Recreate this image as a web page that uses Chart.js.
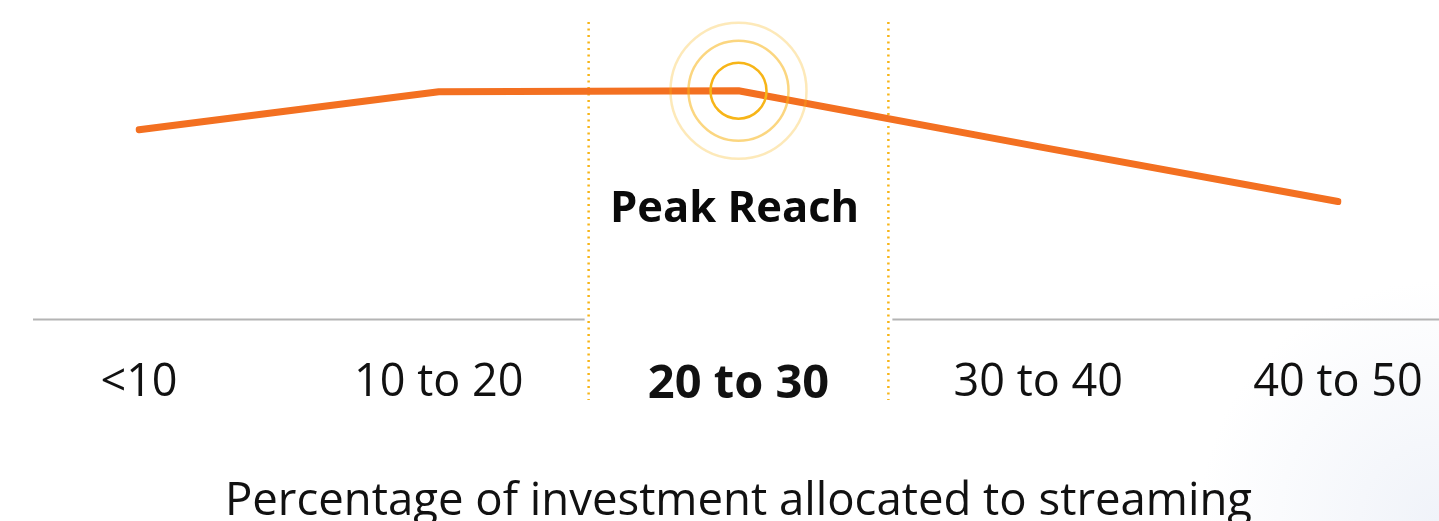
<!DOCTYPE html>
<html>
<head>
<meta charset="utf-8">
<script src="https://cdn.jsdelivr.net/npm/chart.js@4/dist/chart.umd.min.js"></script>
<style>
  html, body { margin:0; padding:0; background:#fff; }
  body { width:1439px; height:521px; overflow:hidden;
    background: radial-gradient(circle at 100% 100%, #f0f3f9 0, #ffffff 240px); }
  #wrap { position:relative; width:1439px; height:521px; }
</style>
</head>
<body>
<div id="wrap"><canvas id="chart" width="1439" height="521"></canvas></div>
<script>
// Reach by share of investment going to streaming
const categories = ['<10', '10 to 20', '20 to 30', '30 to 40', '40 to 50']
const reachValues = [59.4, 71.3, 71.6, 54.1, 36.9]
const peakIndex = 2
const axisTitle = 'Percentage of investment allocated to streaming'
const peakLabel = 'Peak Reach'

const ORANGE = '#f37021'
const GOLD = '#f7b518'
const FONT = '"Open Sans", sans-serif'

// draws the highlight band, the broken baseline and the peak rings
const decorations = {
  id:'decorations',
  beforeDatasetsDraw(chart){
    const {ctx, chartArea, scales:{x}} = chart
    const bandL = (x.getPixelForValue(peakIndex-1) + x.getPixelForValue(peakIndex)) / 2
    const bandR = (x.getPixelForValue(peakIndex) + x.getPixelForValue(peakIndex+1)) / 2
    const base = chartArea.bottom
    ctx.save()
    // baseline, interrupted by the band
    ctx.strokeStyle = '#b4b4b4'
    ctx.lineWidth = 2
    ctx.beginPath()
    ctx.moveTo(x.getPixelForValue(0) - 106, base); ctx.lineTo(bandL - 4, base)
    ctx.moveTo(bandR + 4, base); ctx.lineTo(chart.width, base)
    ctx.stroke()
    // dotted band edges
    ctx.strokeStyle = GOLD
    ctx.lineWidth = 2.5
    ctx.setLineDash([2, 4.5])
    ;[bandL, bandR].forEach(px=>{
      ctx.beginPath()
      ctx.moveTo(px, 22); ctx.lineTo(px, 400)
      ctx.stroke()
    })
    ctx.restore()
  },
  afterDatasetsDraw(chart){
    const {ctx} = chart
    const pt = chart.getDatasetMeta(0).data[peakIndex]
    ctx.save()
    const rings = [[68, 'rgba(247,181,24,0.3)'], [50, 'rgba(247,181,24,0.55)'], [28, GOLD]]
    rings.forEach(([r, c])=>{
      ctx.strokeStyle = c
      ctx.lineWidth = 2.5
      ctx.beginPath()
      ctx.arc(pt.x, pt.y, r, 0, Math.PI*2)
      ctx.stroke()
    })
    ctx.fillStyle = '#0a0a0a'
    ctx.font = 'bold 43.5px ' + FONT
    ctx.textAlign = 'center'
    ctx.textBaseline = 'middle'
    ctx.fillText(peakLabel, pt.x - 4, pt.y + 119)
    ctx.restore()
  }
}

new Chart(document.getElementById('chart'), {
  type:'line',
  data:{
    labels: categories,
    datasets:[{
      data: reachValues,
      borderColor: ORANGE,
      borderWidth: 7,
      borderCapStyle: 'round',
      borderJoinStyle: 'round',
      pointRadius: 0,
      tension: 0
    }]
  },
  options:{
    responsive:false,
    animation:false,
    events:[],
    layout:{ autoPadding:false, padding:{left:139, right:101, top:0, bottom:0} },
    plugins:{ legend:{display:false}, tooltip:{enabled:false} },
    scales:{
      y:{ display:false, min:0, max:100 },
      x:{
        offset:false,
        // tick marks hidden, tickLength only pushes the labels down
        grid:{ display:false, drawTicks:true, tickLength:35 },
        border:{ display:false },
        ticks:{
          padding:2,
          color:'#111',
          autoSkip:false,
          maxRotation:0,
          font: c => ({ family:FONT, size: c.index === peakIndex ? 47 : 45, weight: c.index === peakIndex ? 'bold' : 'normal' })
        },
        title:{
          display:true,
          text: axisTitle,
          color:'#111',
          font:{ family:FONT, size:45.5, lineHeight:0.84 },
          padding:{ top:68, bottom:0 }
        }
      }
    }
  },
  plugins:[decorations]
})
</script>
</body>
</html>
